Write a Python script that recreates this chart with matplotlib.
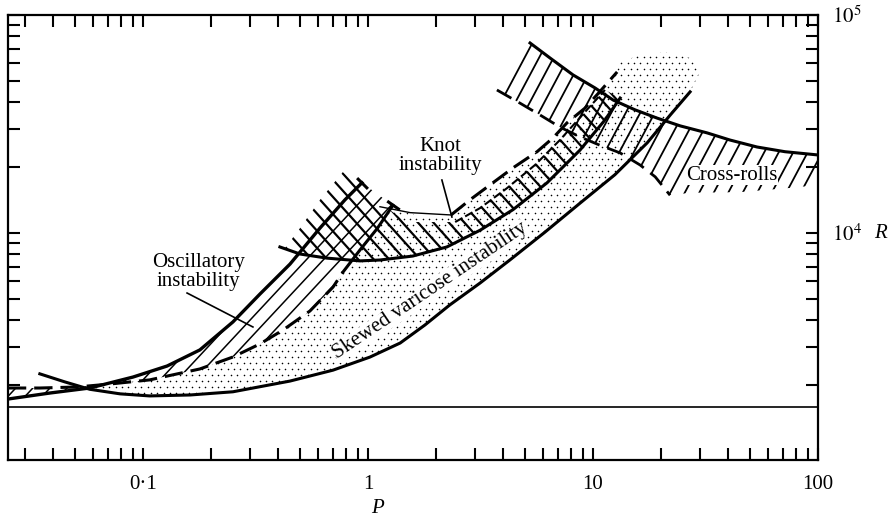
import matplotlib
matplotlib.use('Agg')
import numpy as np
import matplotlib.pyplot as plt
from matplotlib.patches import Polygon
from matplotlib.collections import LineCollection
from matplotlib.ticker import NullFormatter

plt.rcParams['font.family'] = ['Liberation Serif', 'DejaVu Serif']
plt.rcParams['mathtext.fontset'] = 'stix'

# values (P = Prandtl number, R = Rayleigh number)
R_crit = 1590

# skewed varicose boundary (lower solid curve)
sv_P = [0.0348, 0.045, 0.058, 0.079, 0.107, 0.162, 0.251, 0.45, 0.699, 1.02, 1.39,
        1.79, 2.31, 3.15, 4.27, 6.12, 8.75, 12.5, 17.4, 22, 27]
sv_R = [2260, 2075, 1920, 1830, 1790, 1808, 1870, 2094, 2350, 2698, 3130,
        3785, 4680, 5900, 7520, 10100, 13700, 18500, 25900, 34700, 44400]

# oscillatory boundary (solid) and its dashed partner
osc_P = [0.0251, 0.0386, 0.058, 0.0903, 0.128, 0.179, 0.251, 0.331, 0.45, 0.612, 0.79, 0.94]
osc_R = [1732, 1846, 1946, 2185, 2455, 2910, 3910, 5250, 7200, 10540, 14200, 17000]
osc2_P = [0.0251, 0.0348, 0.0509, 0.0713, 0.107, 0.179, 0.251, 0.331, 0.419, 0.552, 0.699, 0.774]
osc2_R = [1946, 1946, 1967, 2030, 2120, 2380, 2700, 3100, 3590, 4390, 5650, 6620]
osc3_P = [0.774, 0.921, 1.10, 1.29]
osc3_R = [6620, 8360, 10500, 13400]

# knot boundary (solid), comb line above it, ragged end of hatching
knot_P = [0.406, 0.499, 0.658, 0.921, 1.13, 1.58, 2.24, 3.15, 4.41, 6.25, 8.75, 11.3, 13.2]
knot_R = [8630, 8010, 7670, 7450, 7520, 7840, 8630, 10300, 12800, 17000, 24000, 33000, 41600]
comb_P = [2.44, 3.15, 4.15, 5.52, 7.13, 9.21, 11.3]
comb_R = [11230, 13020, 16070, 20500, 26710, 35900, 45300]
ktop_P = [1.886, 1.49, 1.166, 0.921, 0.774, 0.612, 0.499, 0.428]
ktop_R = [11230, 11230, 13400, 16300, 19060, 14200, 10540, 8530]

# knot dashed curve
kd_P = [2.34, 2.84, 3.48, 4.41, 5.64, 6.64, 7.66, 9.21, 10.7, 12.8]
kd_R = [12100, 14200, 16600, 19900, 23600, 27300, 32000, 37400, 44400, 54800]
kthin_P = [1.13, 1.54, 2.34]
kthin_R = [13200, 12400, 12100]

# top of the stippled region
cap_P = [29.9, 27, 20.9, 16.2, 12.9]
cap_R = [54800, 63500, 67600, 65560, 60300]
link_P = [1.70, 1.39]
link_R = [12100, 12500]

# cross-rolls
cr_P = [5.25, 6.44, 8.15, 10.2, 12.3, 15.4, 19.2, 24.4, 32.1, 40.6, 53.6, 71.3, 100]
cr_R = [74400, 63500, 53100, 46300, 40700, 36700, 33700, 31000, 28800, 26700, 24800, 23600, 22800]
crl_P = [3.74, 4.74, 5.81, 7.13, 8.75, 10.7, 13.2, 16.2, 18.9, 22]
crl_R = [45300, 39400, 34800, 30600, 27600, 25300, 23300, 20500, 18100, 14900]
crh_P = [27, 45, 75, 100]
crh_R = [15300, 15400, 16100, 16600]

osc_ptr_P = [0.157, 0.308]
osc_ptr_R = [5307, 3707]
knot_ptr_P = [2.13, 2.36]
knot_ptr_R = [17500, 11840]


def pts(p, r):
    return np.column_stack([p, r])


fig = plt.figure(figsize=(8.95, 5.2), dpi=100)
ax = fig.add_axes([0.0084, 0.1154, 0.9056, 0.8558])
ax.set_xscale('log')
ax.set_yscale('log')
ax.set_xlim(0.025, 100)
ax.set_ylim(910, 1e5)

pos = ax.get_position()
W = pos.width * fig.get_figwidth() * fig.dpi
H = pos.height * fig.get_figheight() * fig.dpi


def outline(verts):
    patch = Polygon(verts, closed=True, facecolor='none', edgecolor='none')
    ax.add_patch(patch)
    return patch


def hatch(verts, angle, spacing, lw):
    # parallel lines (angle in screen degrees, spacing in pixels) clipped to the outline
    patch = outline(verts)
    a = np.deg2rad(angle)
    d = np.array([np.cos(a), np.sin(a)])
    n = np.array([-np.sin(a), np.cos(a)])
    L = np.hypot(W, H)
    c = np.array([W / 2, H / 2])
    segs = []
    for o in np.arange(-L / 2, L / 2, spacing):
        p0 = (c + o * n - L * d) / [W, H]
        p1 = (c + o * n + L * d) / [W, H]
        segs.append([p0, p1])
    lc = LineCollection(segs, colors='black', linewidths=lw, transform=ax.transAxes)
    ax.add_collection(lc)
    lc.set_clip_path(patch)


# stippled region: a fine dot screen clipped to the outline
stip = np.vstack([pts(sv_P[2:], sv_R[2:]), pts(cap_P, cap_R), pts(kd_P[::-1], kd_R[::-1]),
                  pts(link_P, link_R), pts(osc3_P[::-1], osc3_R[::-1]),
                  pts(osc2_P[::-1], osc2_R[::-1])[1:-3]])
stip_patch = outline(stip)
gx, gy = np.meshgrid(np.arange(0.003, 1, 6.4 / W), np.arange(0.003, 1, 6.0 / H))
gx[::2] += 3.2 / W
dots = ax.scatter(gx.ravel(), gy.ravel(), s=1.3, c='black', marker='o', linewidths=0,
                  transform=ax.transAxes)
dots.set_clip_path(stip_patch)

# hatched bands
hatch(np.vstack([pts(osc_P, osc_R), pts(osc3_P[::-1], osc3_R[::-1]),
                 pts(osc2_P[::-1], osc2_R[::-1])]), 47, 12.5, 1.1)
hatch(np.vstack([pts(knot_P, knot_R), pts(comb_P[::-1], comb_R[::-1]),
                 pts(ktop_P, ktop_R)]), 132, 11.5, 1.6)
hatch(np.vstack([pts(cr_P, cr_R), pts(crh_P[::-1], crh_R[::-1]),
                 pts(crl_P[::-1], crl_R[::-1])]), 62, 12.8, 1.3)

ax.axhline(R_crit, color='black', lw=1.2)
ax.plot(sv_P, sv_R, color='black', lw=2.2)
ax.plot(osc_P, osc_R, color='black', lw=2.4)
ax.plot(osc2_P, osc2_R, color='black', lw=2.2, dashes=(6, 2.6))
ax.plot(osc3_P, osc3_R, color='black', lw=2.2)
ax.plot(knot_P, knot_R, color='black', lw=2.2)
ax.plot(comb_P, comb_R, color='black', lw=1.5, dashes=(4, 1.5))
ax.plot(kd_P, kd_R, color='black', lw=2.2, dashes=(6, 2.6))
ax.plot(kthin_P, kthin_R, color='black', lw=1.0)
ax.plot(cr_P, cr_R, color='black', lw=2.2)
ax.plot(crl_P, crl_R, color='black', lw=2.0, dashes=(6, 3))
ax.plot(osc_ptr_P, osc_ptr_R, color='black', lw=1.2)
ax.plot(knot_ptr_P, knot_ptr_R, color='black', lw=1.2)

# end bars on the oscillatory lines
ax.plot(osc_P[-1:], osc_R[-1:], ls='none', marker=(2, 0, 45), ms=11, mew=2.2, color='black')
ax.plot(osc3_P[-1:], osc3_R[-1:], ls='none', marker=(2, 0, 55), ms=11, mew=2.2, color='black')

fs = 15
white = dict(facecolor='white', edgecolor='none', pad=0.5)
ax.text(0.177, 6620, 'Oscillatory\ninstability', ha='center', va='center', fontsize=fs,
        linespacing=1.0)
ax.text(2.09, 22540, 'Knot\ninstability', ha='center', va='center', fontsize=fs,
        linespacing=1.0)
ax.text(41.5, 18450, 'Cross-rolls', ha='center', va='center', fontsize=fs, bbox=white,
        zorder=5)
ax.text(1.886, 5420, 'Skewed varicose instability', ha='center', va='center',
        fontsize=fs, rotation=34, rotation_mode='anchor',
        bbox=dict(facecolor='white', edgecolor='none', pad=0.0), zorder=5)

# axes and ticks
for s in ax.spines.values():
    s.set_linewidth(1.6)
ax.set_xticks([0.1, 1, 10, 100])
ax.set_xticklabels(['0·1', '1', '10', '100'])
ax.set_yticks([1e4, 1e5])
ax.set_yticklabels(['$10^{4}$', '$10^{5}$'])
ax.xaxis.set_minor_formatter(NullFormatter())
ax.yaxis.set_minor_formatter(NullFormatter())
ax.tick_params(which='both', direction='in', length=8.5, width=1.5,
               top=True, right=True, left=True, bottom=True,
               labelleft=False, labelright=True, labelsize=fs)
ax.tick_params(axis='x', pad=11)
ax.tick_params(axis='y', pad=10)
ax.text(0.456, -0.108, 'P', transform=ax.transAxes, ha='center', va='center',
        fontsize=fs, fontstyle='italic')
ax.text(1.0765, 0.51, 'R', transform=ax.transAxes, ha='center', va='center',
        fontsize=fs, fontstyle='italic')

fig.savefig('out.png', dpi=100)
